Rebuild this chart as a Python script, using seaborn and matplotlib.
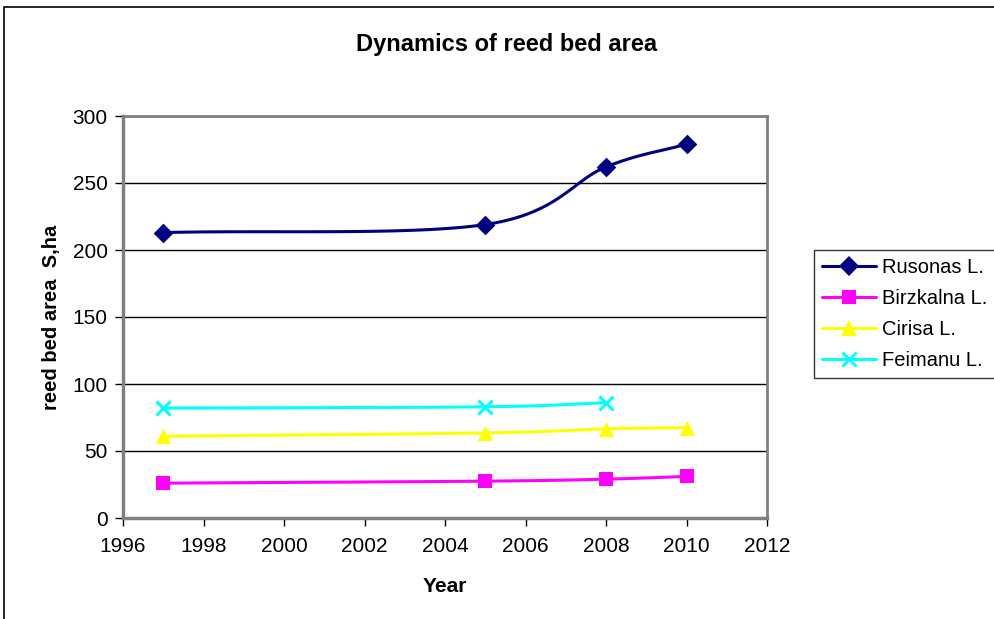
import numpy as np
import pandas as pd
import matplotlib
matplotlib.use("Agg")
import matplotlib.pyplot as plt
from matplotlib.lines import Line2D
from matplotlib.patches import Rectangle
import seaborn as sns

# data
years = [1997, 2005, 2008, 2010]
rusonas = [213, 219, 262, 279]
birzkalna = [26, 27.5, 29, 31]
cirisa = [61, 63.5, 66.5, 67.5]
feimanu_years = [1997, 2005, 2008]
feimanu = [82, 83, 86]

series = [
    ("Rusonas L.", years, rusonas, "#000080", "D", 10),
    ("Birzkalna L.", years, birzkalna, "#ff00ff", "s", 10),
    ("Cirisa L.", years, cirisa, "#ffff00", "^", 11),
    ("Feimanu L.", feimanu_years, feimanu, "#00ffff", "x", 10),
]


# Excel-like smoothed line (Catmull-Rom through the data points)
def smooth(xs, ys, n=40):
    x = np.asarray(xs, float)
    y = np.asarray(ys, float)
    px = np.concatenate([[2 * x[0] - x[1]], x, [2 * x[-1] - x[-2]]])
    py = np.concatenate([[2 * y[0] - y[1]], y, [2 * y[-1] - y[-2]]])
    out_x, out_y = [], []
    for i in range(1, len(px) - 2):
        t = np.linspace(0, 1, n)
        for p, out in ((px, out_x), (py, out_y)):
            p0, p1, p2, p3 = p[i - 1], p[i], p[i + 1], p[i + 2]
            c1 = p1 + (p2 - p0) / 6
            c2 = p2 - (p3 - p1) / 6
            out.extend((1 - t) ** 3 * p1 + 3 * (1 - t) ** 2 * t * c1
                       + 3 * (1 - t) * t ** 2 * c2 + t ** 3 * p2)
    return out_x, out_y


sns.set_theme(style="white")
plt.rcParams["font.family"] = ["Liberation Sans", "DejaVu Sans"]
plt.rcParams["text.color"] = "black"
plt.rcParams["axes.labelcolor"] = "black"

fig = plt.figure(figsize=(9.95, 6.19), dpi=100)
ax = fig.add_axes([123 / 995, 1 - 518 / 619, 644 / 995, 402 / 619])

# outer chart frame
fig.patches.append(Rectangle((4 / 995, -0.05), 1.1, 1 - 7 / 619 + 0.05,
                             transform=fig.transFigure, fill=False,
                             edgecolor="black", linewidth=1.2))

handles = []
for name, xs, ys, color, marker, ms in series:
    sx, sy = smooth(xs, ys)
    sns.lineplot(x=sx, y=sy, ax=ax, color=color, linewidth=2.2, sort=False,
                 estimator=None)
    df = pd.DataFrame({"x": xs, "y": ys})
    if marker == "x":
        ax.plot(df["x"], df["y"], linestyle="none", marker="x", color=color,
                markersize=ms, markeredgewidth=2.2, zorder=4)
    else:
        sns.scatterplot(data=df, x="x", y="y", ax=ax, color=color,
                        marker=marker, s=ms ** 2, edgecolor=color,
                        linewidth=0, zorder=4)
    handles.append(Line2D([], [], color=color, linewidth=2.2, marker=marker,
                          markersize=ms, markeredgewidth=2 if marker == "x" else 0,
                          markeredgecolor=color, label=name))

ax.set_xlim(1996, 2012)
ax.set_ylim(0, 300)
ax.set_xticks(range(1996, 2013, 2))
ax.set_yticks(range(0, 301, 50))
ax.yaxis.grid(True, color="black", linewidth=1)
ax.set_axisbelow(True)
for side in ("left", "bottom"):
    ax.spines[side].set_color("#808080")
    ax.spines[side].set_linewidth(2.5)
for side in ("top", "right"):
    ax.spines[side].set_color("#808080")
    ax.spines[side].set_linewidth(2)
ax.tick_params(axis="both", which="both", direction="out", length=6,
               width=1, color="black", labelsize=15, labelcolor="black",
               bottom=True, left=True)
ax.tick_params(axis="x", pad=8)
ax.tick_params(axis="y", pad=5)

ax.set_xlabel("Year", fontsize=15, fontweight="bold", labelpad=15)
ax.set_ylabel("reed bed area  S,ha", fontsize=14.5, fontweight="bold", labelpad=8)
fig.text(507 / 995, 1 - 44 / 619, "Dynamics of reed bed area", ha="center",
         va="center", fontsize=17, fontweight="bold")

leg = fig.legend(handles=handles, loc="upper left",
                 bbox_to_anchor=(814 / 995, 1 - 250 / 619), fontsize=14.5,
                 frameon=True, fancybox=False, edgecolor="black",
                 borderpad=0.4, labelspacing=0.6, handlelength=2.7,
                 handletextpad=0.3, borderaxespad=0)
leg.get_frame().set_linewidth(1)

fig.savefig("out.png", dpi=100)
